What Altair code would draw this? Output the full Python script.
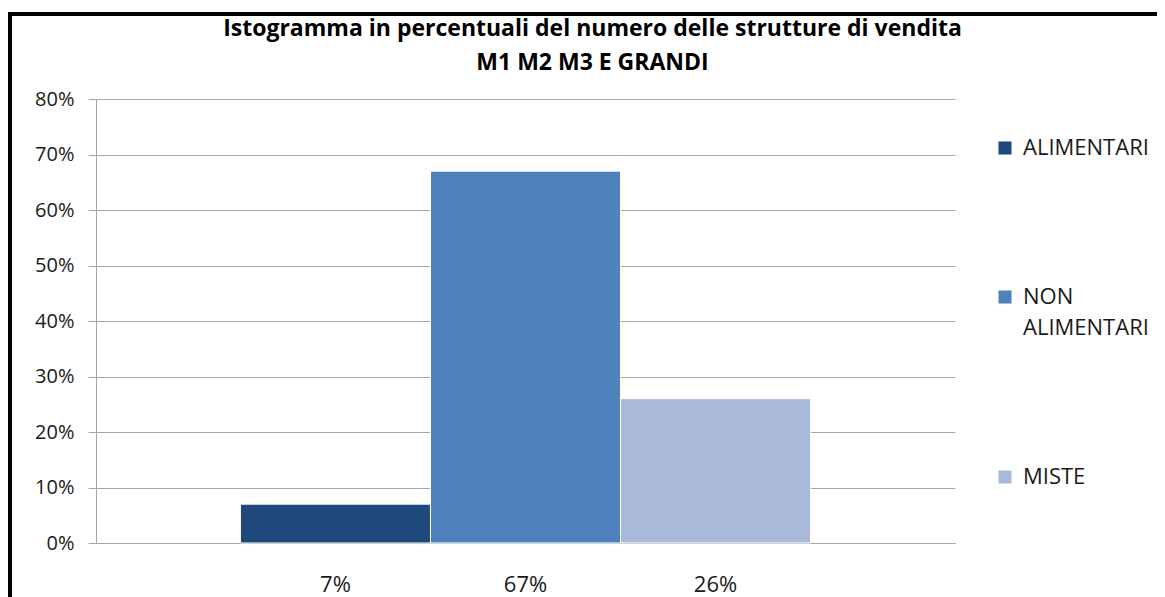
import altair as alt
import pandas as pd

categories = ["ALIMENTARI", "NON ALIMENTARI", "MISTE"]
values = [0.07, 0.67, 0.26]
x_labels = ["7%", "67%", "26%"]
colors = ["#1F497D", "#4F81BD", "#A9B9D8"]

df = pd.DataFrame({"categoria": categories, "valore": values, "etichetta": x_labels})

FONT = "Open Sans"

bars = alt.Chart(df).mark_bar(stroke="white", strokeWidth=1).encode(
    x=alt.X("etichetta:N", sort=x_labels, title=None,
            scale=alt.Scale(paddingInner=0, paddingOuter=0.76),
            axis=alt.Axis(ticks=False, domain=True, domainColor="#a6a6a6",
                          labelAngle=0, labelFontSize=22, labelColor="#1a1a1a",
                          labelPadding=31, labelFont=FONT)),
    y=alt.Y("valore:Q", title=None,
            scale=alt.Scale(domain=[0, 0.8]),
            axis=alt.Axis(format=".0%", values=[0, .1, .2, .3, .4, .5, .6, .7, .8],
                          grid=True, gridColor="#a6a6a6", domainColor="#a6a6a6",
                          tickColor="#a6a6a6", tickSize=8, labelFontSize=20,
                          labelColor="#1a1a1a", labelPadding=14, labelFont=FONT)),
    color=alt.Color("categoria:N", sort=categories,
                    scale=alt.Scale(domain=categories, range=colors),
                    legend=alt.Legend(title=None, orient="none", legendX=898, legendY=38,
                                      symbolType="square", symbolSize=170,
                                      symbolStrokeWidth=0, labelFontSize=22,
                                      labelFont=FONT, labelColor="#1a1a1a",
                                      labelOffset=7, rowPadding=127, padding=0,
                                      labelLimit=300,
                                      labelExpr="datum.label == 'NON ALIMENTARI' ? ['NON', 'ALIMENTARI'] : datum.label")),
)

frame = alt.Chart(alt.Data(values=[{"k": 1}])).mark_rect(
    fill=None, stroke="black", strokeWidth=4, clip=False
).encode(
    x=alt.value(-86), x2=alt.value(1100), y=alt.value(-85), y2=alt.value(560)
)

chart = alt.layer(frame, bars).properties(
    width=859, height=444,
    padding={"left": 88, "top": 91, "right": 202, "bottom": 62},
    autosize=alt.AutoSizeParams(type="none"),
    title=alt.TitleParams(
        text=["Istogramma in percentuali del numero delle strutture di vendita",
              "M1 M2 M3 E GRANDI"],
        font=FONT, fontSize=23, fontWeight="bold", color="#000000",
        anchor="middle", dx=67, offset=-63, lineHeight=34,
    ),
).configure(style={"guide-label": {"lineHeight": 31}}).configure_view(stroke=None)

chart.save("out.html", embed_options={"renderer": "svg", "actions": False})
